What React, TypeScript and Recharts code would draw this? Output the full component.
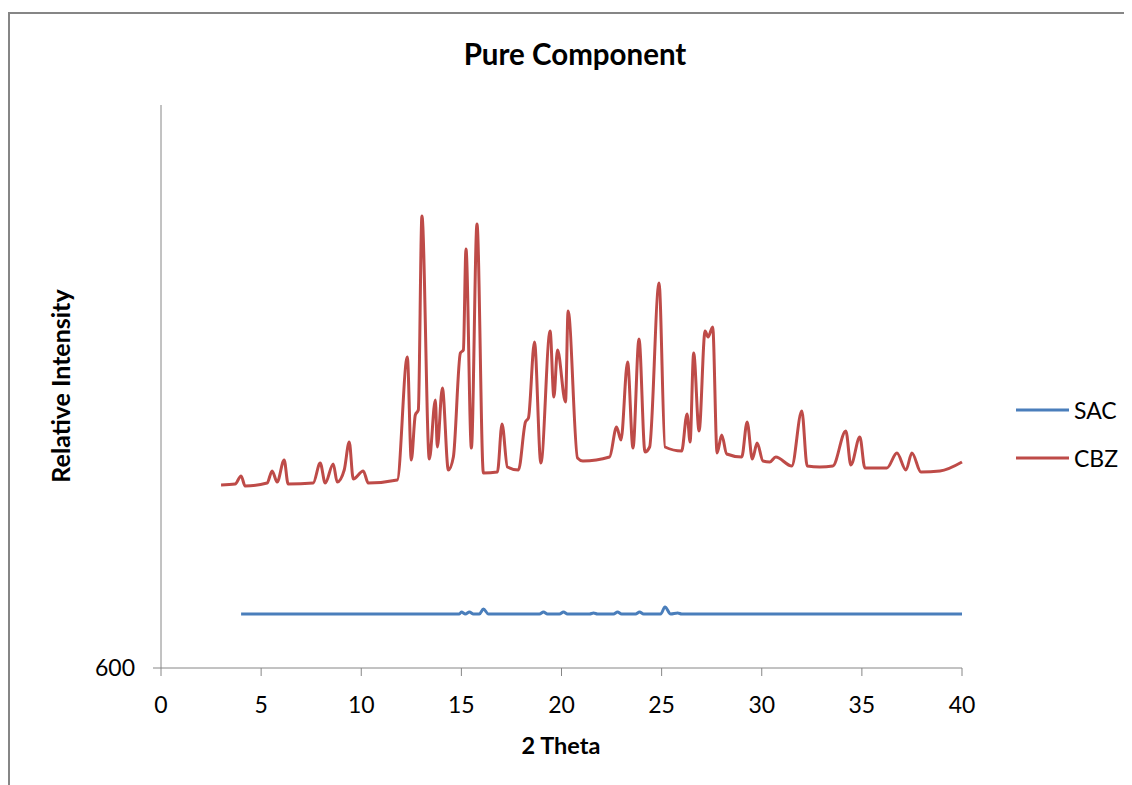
import { LineChart, Line, XAxis, YAxis, Legend } from "recharts";

const FONT = "Lato, 'Liberation Sans', sans-serif";

// 2-theta positions and intensities
const cbzTheta = [
  3.0, 3.7, 4.0, 4.2, 5.3, 5.55, 5.8, 6.15, 6.35, 7.6, 7.95, 8.2, 8.6, 8.8, 9.15, 9.4, 9.6, 10.1, 10.35,
  11.8, 12.3, 12.5, 12.7, 12.85, 13.03, 13.4, 13.7, 13.8, 14.05, 14.35, 14.6, 14.95, 15.1, 15.23, 15.5,
  15.78, 16.1, 16.8, 17.03, 17.3, 17.85, 18.2, 18.35, 18.65, 18.97, 19.43, 19.62, 19.8, 20.2, 20.33,
  20.8, 21.07, 22.4, 22.75, 22.97, 23.3, 23.57, 23.87, 24.17, 24.4, 24.87, 25.17, 26.0, 26.27, 26.42,
  26.6, 26.87, 27.17, 27.32, 27.55, 27.77, 28.0, 28.25, 29.0, 29.27, 29.53, 29.77, 30.06, 30.4, 30.7,
  31.5, 32.0, 32.27, 32.9, 33.55, 34.2, 34.45, 34.9, 35.15, 36.25, 36.75, 37.2, 37.5, 37.95, 38.9, 40.0,
];
const cbzIntensity = [
  2430, 2440, 2520, 2420, 2450, 2570, 2460, 2680, 2440, 2450, 2650, 2450, 2640, 2460, 2580, 2860, 2490, 2570, 2450,
  2480, 3710, 2680, 3130, 3180, 5120, 2690, 3280, 2810, 3400, 2580, 2710, 3750, 3780, 4790, 2800,
  5040, 2550, 2560, 3040, 2610, 2580, 3060, 3100, 3860, 2650, 3970, 3310, 3780, 3260, 4170,
  2700, 2670, 2710, 3010, 2880, 3660, 2800, 3890, 2760, 2810, 4450, 2810, 2770, 3140, 2860,
  3750, 2970, 3970, 3910, 4010, 2750, 2930, 2740, 2710, 3060, 2690, 2850, 2670, 2660, 2710,
  2620, 3170, 2620, 2610, 2620, 2970, 2630, 2910, 2600, 2600, 2750, 2580, 2750, 2560, 2570, 2660,
];

const sacTheta = [
  4.0, 14.9, 15.0, 15.2, 15.4, 15.6, 15.9, 16.1, 16.35, 18.9, 19.1, 19.3, 19.9, 20.1, 20.3, 21.4, 21.6, 21.8,
  22.6, 22.8, 23.0, 23.7, 23.9, 24.1, 24.95, 25.17, 25.45, 25.8, 26.0, 40.0,
];
const sacIntensity = [
  1140, 1140, 1160, 1140, 1160, 1140, 1140, 1190, 1140, 1140, 1160, 1140, 1140, 1160, 1140, 1140, 1150, 1140,
  1140, 1160, 1140, 1140, 1160, 1140, 1140, 1210, 1140, 1150, 1140, 1140,
];

const seriesNames = ["SAC", "CBZ"];
const xTicks = [0, 5, 10, 15, 20, 25, 30, 35, 40];
const yTicks = [600];

const sacData = sacTheta.map((x, i) => ({ x, y: sacIntensity[i] }));
const cbzData = cbzTheta.map((x, i) => ({ x, y: cbzIntensity[i] }));

const AXIS = "#868686";

function LegendBox({ payload }: any) {
  const items = [...(payload || [])].sort(
    (a: any, b: any) => seriesNames.indexOf(a.value) - seriesNames.indexOf(b.value)
  );
  return (
    <div style={{ fontFamily: FONT, fontSize: 23, color: "#000" }}>
      {items.map((p: any) => (
        <div key={p.value} style={{ display: "flex", alignItems: "center", height: 48 }}>
          <svg width={58} height={6}>
            <line x1={0} y1={3} x2={53} y2={3} stroke={p.color} strokeWidth={3} />
          </svg>
          <span>{p.value}</span>
        </div>
      ))}
    </div>
  );
}

export default function App() {
  return (
    <div style={{ position: "relative", width: 1124, height: 777, overflow: "hidden", background: "#fff" }}>
      <div
        style={{
          position: "absolute", left: 0, top: 4, width: 1160, height: 820,
          border: `2px solid ${AXIS}`,
        }}
      />
      <div
        style={{
          position: "absolute", left: 0, width: 1134, top: 30, textAlign: "center",
          fontFamily: FONT, fontWeight: 700, fontSize: 29.5, lineHeight: "32px",
        }}
      >
        Pure Component
      </div>
      <div
        style={{
          position: "absolute", left: 453, width: 200, top: 722, textAlign: "center",
          fontFamily: FONT, fontWeight: 700, fontSize: 23.5, lineHeight: "30px",
        }}
      >
        2 Theta
      </div>
      <div
        style={{
          position: "absolute", left: -48, width: 200, top: 363, textAlign: "center",
          fontFamily: FONT, fontWeight: 700, fontSize: 25, lineHeight: "30px",
          transform: "rotate(-90deg)",
        }}
      >
        Relative Intensity
      </div>
      <LineChart
        width={1124}
        height={777}
        margin={{ top: 97, right: 60, bottom: 57, left: 93 }}
        style={{ position: "absolute", left: 0, top: 0 }}
      >
        <XAxis
          dataKey="x"
          type="number"
          domain={[0, 40]}
          ticks={xTicks}
          height={60}
          allowDuplicatedCategory={false}
          stroke={AXIS}
          tickSize={8}
          tickMargin={21}
          tick={{ fill: "#000", fontFamily: FONT, fontSize: 23 }}
        />
        <YAxis
          type="number"
          domain={[600, 6230]}
          ticks={yTicks}
          width={60}
          stroke={AXIS}
          tickSize={8}
          tickMargin={18}
          tick={{ fill: "#000", fontFamily: FONT, fontSize: 23 }}
          allowDataOverflow
        />
        <Legend
          layout="vertical"
          verticalAlign="top"
          align="right"
          wrapperStyle={{ left: 1008, top: 378, width: 110 }}
          content={<LegendBox />}
        />
        <Line data={sacData} dataKey="y" name="SAC" type="monotone" stroke="#4a7ebb" strokeWidth={3} dot={false} isAnimationActive={false} />
        <Line data={cbzData} dataKey="y" name="CBZ" type="monotone" stroke="#be4b48" strokeWidth={3} dot={false} isAnimationActive={false} />
      </LineChart>
    </div>
  );
}
